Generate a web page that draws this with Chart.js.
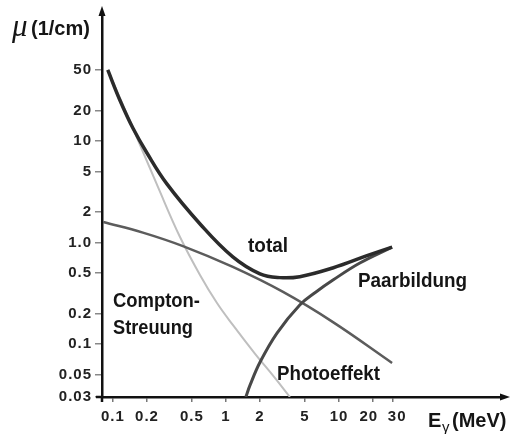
<!DOCTYPE html>
<html>
<head>
<meta charset="utf-8">
<script src="https://cdn.jsdelivr.net/npm/chart.js@4.4.0/dist/chart.umd.min.js"></script>
<style>
  html, body { margin: 0; padding: 0; background: #fff; }
  canvas { display: block; }
</style>
</head>
<body>
<canvas id="muChart" width="511" height="434"></canvas>
<script>
// energy in MeV, attenuation coefficient mu in 1/cm
const totalE = [0.09, 0.115, 0.15, 0.2, 0.3, 0.59, 1.15, 2, 3, 4.5, 8.8, 17.7, 29.5];
const totalMu = [50, 25.3, 13.4, 7.6, 3.77, 1.52, 0.72, 0.49, 0.45, 0.46, 0.56, 0.74, 0.9];

const paarE = [1.5, 1.63, 2, 2.83, 4.5, 6.26, 8.85, 15.3, 29.5];
const paarMu = [0.03, 0.039, 0.066, 0.128, 0.242, 0.325, 0.426, 0.627, 0.9];

const comptonE = [0.082, 0.184, 0.416, 1.15, 3.2, 8.85, 29.5];
const comptonMu = [1.59, 1.25, 0.92, 0.573, 0.325, 0.164, 0.065];

const photoE = [0.09, 0.15, 0.25, 0.392, 0.589, 0.833, 1.15, 1.81, 2.72, 3.68];
const photoMu = [50, 13.4, 3.52, 1.13, 0.478, 0.253, 0.154, 0.08, 0.046, 0.03];

const xTickValues = [0.1, 0.2, 0.5, 1, 2, 5, 10, 20, 30];
// the en spaces push "20" and "30" apart a little, as in the original
const xTickLabels = ['0.1', '0.2', '0.5', '1', '2', '5', '10', '20\u2002', '\u200230'];
const yTickValues = [0.03, 0.05, 0.1, 0.2, 0.5, 1, 2, 5, 10, 20, 50];
const yTickLabels = ['0.03', '0.05', '0.1', '0.2', '0.5', '1.0', '2', '5', '10', '20', '50'];

function toPoints(es, mus) {
    return es.map(function (e, i) { return { x: e, y: mus[i] }; });
}

function curve(label, es, mus, color, width) {
    return {
        label: label,
        data: toPoints(es, mus),
        borderColor: color,
        borderWidth: width,
        pointRadius: 0,
        fill: false,
        tension: 0.4
    };
}

const labelFont = 'bold 20px "Liberation Sans", Arial, sans-serif';

// axis arrows, axis titles and the curve names
const annotate = {
    id: 'annotate',
    beforeDraw(chart) {
        chart.ctx.letterSpacing = '1px';
    },
    beforeDatasetsDraw(chart) {
        chart.ctx.letterSpacing = '0px';
    },
    afterDraw(chart) {
        const ctx = chart.ctx;
        const a = chart.chartArea;
        ctx.save();
        ctx.letterSpacing = '0px';
        ctx.strokeStyle = '#111';
        ctx.fillStyle = '#111';
        ctx.lineWidth = 2.5;
        ctx.beginPath();
        ctx.moveTo(a.left, a.top);
        ctx.lineTo(a.left, 14);
        ctx.moveTo(a.left, a.bottom);
        ctx.lineTo(a.left, a.bottom + 5);
        ctx.moveTo(a.left, a.bottom);
        ctx.lineTo(a.left - 6, a.bottom);
        ctx.moveTo(a.right, a.bottom);
        ctx.lineTo(503, a.bottom);
        ctx.stroke();

        ctx.beginPath();
        ctx.moveTo(a.left, 6);
        ctx.lineTo(a.left - 3.5, 16);
        ctx.lineTo(a.left + 3.5, 16);
        ctx.closePath();
        ctx.fill();
        ctx.beginPath();
        ctx.moveTo(510, a.bottom);
        ctx.lineTo(500, a.bottom - 3.5);
        ctx.lineTo(500, a.bottom + 3.5);
        ctx.closePath();
        ctx.fill();

        ctx.textAlign = 'left';
        ctx.textBaseline = 'alphabetic';
        ctx.fillStyle = '#151515';
        ctx.font = labelFont;
        ctx.fillText('total', 248, 252, 40);
        ctx.fillText('Paarbildung', 358, 287, 109);
        ctx.fillText('Compton-', 113, 307, 87);
        ctx.fillText('Streuung', 113, 334, 80);
        ctx.fillText('Photoeffekt', 277, 380, 103);

        // y title
        ctx.font = 'italic 31px "Liberation Serif", serif';
        ctx.fillText('\u03bc', 12, 36);
        ctx.font = labelFont;
        ctx.fillText('(1/cm)', 31, 35, 62);

        // x title
        ctx.fillText('E', 428, 427);
        ctx.font = '15px "Liberation Sans", Arial, sans-serif';
        ctx.fillText('\u03b3', 442, 432);
        ctx.font = labelFont;
        ctx.fillText('(MeV)', 452, 427, 57);
        ctx.restore();
    }
};

const tickFont = { family: '"Liberation Sans", Arial, sans-serif', size: 15, weight: 'bold' };

new Chart(document.getElementById('muChart'), {
    type: 'line',
    data: {
        datasets: [
            curve('total', totalE, totalMu, '#2b2b2b', 3.5),
            curve('Paarbildung', paarE, paarMu, '#484848', 3),
            curve('Compton-Streuung', comptonE, comptonMu, '#5c5c5c', 2.5),
            curve('Photoeffekt', photoE, photoMu, '#bfbfbf', 2)
        ]
    },
    options: {
        responsive: false,
        animation: false,
        devicePixelRatio: 1,
        layout: { padding: { left: 0, right: 11, top: 15, bottom: 0 } },
        plugins: {
            legend: { display: false },
            tooltip: { enabled: false }
        },
        scales: {
            x: {
                type: 'logarithmic',
                min: 0.08,
                max: 266,
                bounds: 'data',
                border: { display: true, color: '#111', width: 2.5 },
                grid: { drawOnChartArea: false, tickLength: 5, color: '#777', lineWidth: 1.5 },
                ticks: {
                    autoSkip: false,
                    maxRotation: 0,
                    padding: 6,
                    color: '#222',
                    font: tickFont,
                    callback: function (value, index) { return xTickLabels[index]; }
                },
                afterBuildTicks: function (scale) {
                    scale.ticks = xTickValues.map(function (v) { return { value: v }; });
                },
                afterFit: function (scale) {
                    scale.height = 37;
                    scale.paddingLeft = 0;
                    scale.paddingRight = 0;
                }
            },
            y: {
                type: 'logarithmic',
                min: 0.03,
                max: 174,
                bounds: 'data',
                border: { display: true, color: '#111', width: 2.5 },
                grid: { drawOnChartArea: false, tickLength: 7, color: '#888', lineWidth: 1.5 },
                ticks: {
                    autoSkip: false,
                    padding: 3,
                    color: '#222',
                    font: tickFont,
                    callback: function (value, index) { return yTickLabels[index]; }
                },
                afterBuildTicks: function (scale) {
                    scale.ticks = yTickValues.map(function (v) { return { value: v }; });
                },
                afterFit: function (scale) {
                    scale.width = 102;
                    scale.paddingTop = 0;
                    scale.paddingBottom = 0;
                }
            }
        }
    },
    plugins: [annotate]
});
</script>
</body>
</html>
